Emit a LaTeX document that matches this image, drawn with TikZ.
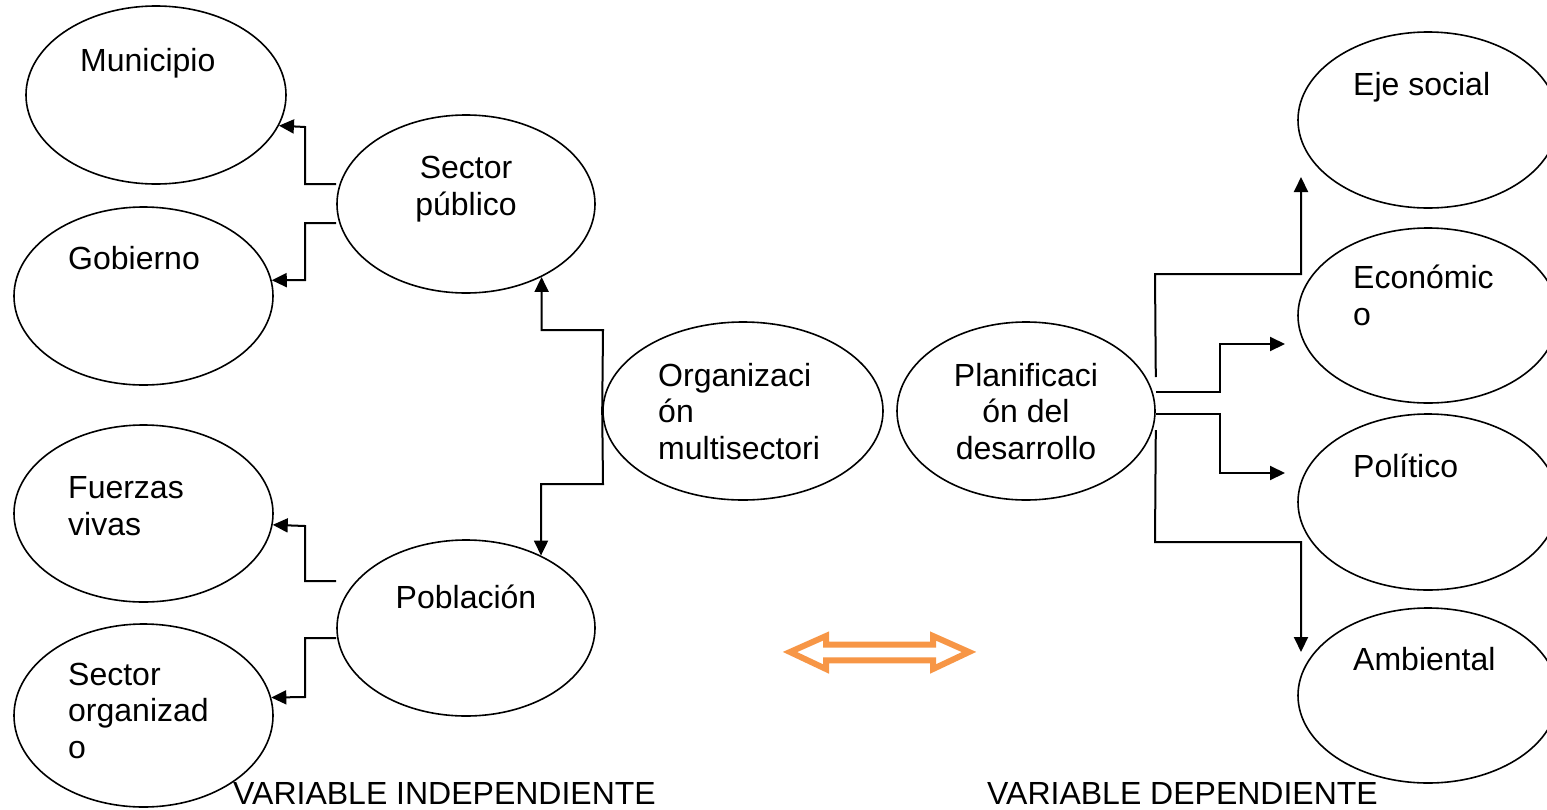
\documentclass[tikz,border=0pt]{standalone}
\usepackage{fontspec}
\setmainfont{Liberation Sans}
\usetikzlibrary{arrows.meta,calc,shapes.geometric}
\definecolor{arroworange}{HTML}{F79646}
\begin{document}
\begin{tikzpicture}[x=1pt,y=-1pt,
  oval/.style={draw, ellipse, line width=1.6pt, inner sep=0pt},
  lbl/.style={inner sep=0pt, font=\fontsize{32}{36.5}\selectfont},
  conn/.style={line width=2pt},
  arr/.style={conn, -{Triangle[length=15pt,width=14pt]}}]
\useasboundingbox (0,0) rectangle (1547,809);
\clip (0,0) rectangle (1547,809);
% ellipses
\node[oval, minimum width=260pt, minimum height=178pt] (mun) at (156,95) {};
\node[oval, minimum width=259pt, minimum height=178pt] (gob) at (143.5,296) {};
\node[oval, minimum width=259pt, minimum height=177pt] (fv) at (143.5,513.5) {};
\node[oval, minimum width=259pt, minimum height=183pt] (so) at (143.5,715.5) {};
\node[oval, minimum width=258pt, minimum height=178pt] (sp) at (466,204) {};
\node[oval, minimum width=258pt, minimum height=176pt] (pob) at (466,628) {};
\node[oval, minimum width=280pt, minimum height=178pt] (org) at (743,411) {};
\node[oval, minimum width=258pt, minimum height=178pt] (pl) at (1026,411) {};
\node[oval, minimum width=260pt, minimum height=176pt] (eje) at (1428,120) {};
\node[oval, minimum width=260pt, minimum height=175pt] (eco) at (1428,315.5) {};
\node[oval, minimum width=260pt, minimum height=176pt] (pol) at (1428,502) {};
\node[oval, minimum width=260pt, minimum height=175pt] (amb) at (1428,695.5) {};
% texts (base anchor = last line baseline)
\node[lbl, anchor=base west] (tmun) at (80,71) {Municipio};
\node[lbl, anchor=base west] (tgob) at (68,269) {Gobierno};
\node[lbl, anchor=base, align=center] (tsp) at (466,215) {Sector\\público};
\node[lbl, anchor=base west, align=left] (torg) at (658,459) {Organizaci\\ón\\multisectori};
\node[lbl, anchor=base, align=center] (tpl) at (1026,459) {Planificaci\\ón del\\desarrollo};
\node[lbl, anchor=base west, align=left] (tfv) at (68,535) {Fuerzas\\vivas};
\node[lbl, anchor=base] (tpob) at (466,608) {Población};
\node[lbl, anchor=base west, align=left] (tso) at (68,758) {Sector\\organizad\\o};
\node[lbl, anchor=base west] (teje) at (1353,95) {Eje social};
\node[lbl, anchor=base west, align=left] (teco) at (1353,325) {Económic\\o};
\node[lbl, anchor=base west] (tpol) at (1353,477) {Político};
\node[lbl, anchor=base west] (tamb) at (1353,670) {Ambiental};
\node[lbl, anchor=base west] (tvi) at (233,804) {VARIABLE INDEPENDIENTE};
\node[lbl, anchor=base west] (tvd) at (987,804) {VARIABLE DEPENDIENTE};
% left connectors
\draw[arr] ($(sp.west)+(0,-20)$) -| (305,127) -- (mun.-14.8);
\draw[arr] ($(sp.west)+(0,19)$) -| (305,280) -- (gob.7.2);
\draw[arr] ($(pob.west)+(0,-47)$) -| (305,526) -- (fv.-5.8);
\draw[arr] ($(pob.west)+(0,10)$) -| (305,697) -- (so.8.3);
\draw[arr] (org.west) -- (603,330) -| (sp.-44.6);
\draw[arr] (org.west) -- (603,484) -| (pob.44.8);
% right connectors
\coordinate (t1) at (1301,177);
\coordinate (t2) at (1285,344);
\coordinate (t3) at (1285,473);
\coordinate (t4) at (1301,652);
\draw[arr] ($(pl.east)+(0,-34)$) -- (1155,274) -| (t1);
\draw[arr] ($(pl.east)+(0,-19)$) -| (1220,344) -- (t2);
\draw[arr] ($(pl.east)+(0,3)$) -| (1220,473) -- (t3);
\draw[arr] ($(pl.east)+(0,19)$) -- (1155,542) -| (t4);
% orange double arrow
\draw[line width=6pt, draw=arroworange, fill=white, line join=miter]
  (790,652) -- (826,636) -- (826,644.7) -- (933,644.7) -- (933,636) -- (969,652)
  -- (933,669) -- (933,660.3) -- (826,660.3) -- (826,669) -- cycle;
\end{tikzpicture}
\end{document}
